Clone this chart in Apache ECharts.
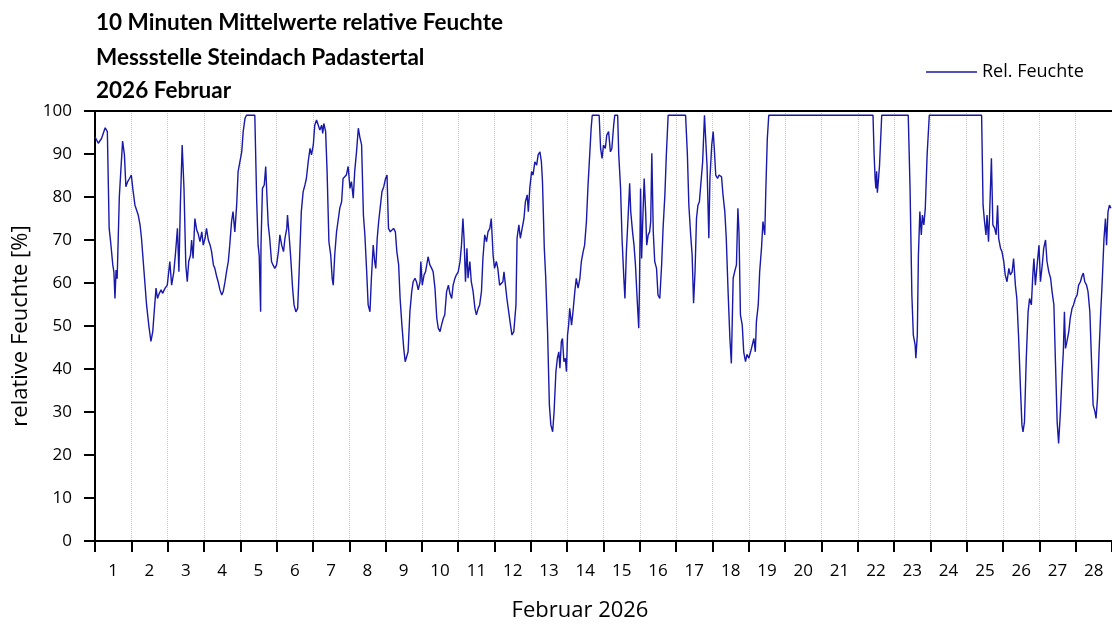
<!DOCTYPE html>
<html>
<head>
<meta charset="utf-8">
<script src="https://cdn.jsdelivr.net/npm/echarts@6/dist/echarts.min.js"></script>
<style>
  html, body { margin: 0; padding: 0; background: #fff; }
  #chart { width: 1112px; height: 627px; }
</style>
</head>
<body>
<div id="chart"></div>
<script>
// Title block (three lines, top left)
const titleLines = [
  '10 Minuten Mittelwerte relative Feuchte',
  'Messstelle Steindach Padastertal',
  '2026 Februar'
];
const seriesName = 'Rel. Feuchte';
const xAxisTitle = 'Februar 2026';
const yAxisTitle = 'relative Feuchte [%]';

// Day labels, centred within each day of the month
const dayLabels = ['1','2','3','4','5','6','7','8','9','10','11','12','13','14',
  '15','16','17','18','19','20','21','22','23','24','25','26','27','28'];

// Time of each reading in days since 1 Feb 00:00
const dayOffsets = [
  0.00,0.09,0.18,0.28,0.34,0.39,0.43,0.49,0.52,0.55,0.58,0.61,0.67,0.71,0.76,0.81,0.85,0.90,0.95,
  1.00,1.04,1.10,1.15,1.19,1.24,1.28,1.35,1.42,1.48,1.54,1.59,1.63,1.68,1.72,1.77,1.82,1.86,1.93,1.99,
  2.06,2.11,2.17,2.22,2.27,2.31,2.35,2.40,2.45,2.50,2.54,2.58,2.63,2.66,2.70,2.75,2.80,2.84,2.89,2.94,2.98,
  3.03,3.07,3.12,3.17,3.21,3.26,3.30,3.35,3.39,3.44,3.49,3.53,3.58,3.62,3.67,3.71,3.76,3.80,3.85,3.90,3.94,3.99,
  4.04,4.08,4.13,4.17,4.40,4.45,4.49,4.52,4.56,4.57,4.61,4.66,4.70,4.74,4.77,4.81,4.86,4.90,4.95,
  5.00,5.05,5.09,5.14,5.19,5.23,5.28,5.30,5.35,5.39,5.44,5.48,5.53,5.58,5.62,5.68,5.73,5.78,5.82,5.87,5.92,5.96,
  6.01,6.05,6.10,6.15,6.19,6.24,6.27,6.30,6.35,6.39,6.44,6.49,6.53,6.56,6.60,6.65,6.69,6.74,6.79,6.83,6.88,6.92,6.97,
  7.02,7.06,7.11,7.15,7.20,7.25,7.29,7.34,7.39,7.43,7.48,7.52,7.57,7.61,7.66,7.70,7.73,7.77,7.81,7.86,7.90,7.95,
  8.00,8.04,8.08,8.13,8.18,8.22,8.27,8.31,8.36,8.40,8.45,8.50,8.54,8.58,8.62,8.67,8.72,8.76,8.81,8.85,8.90,8.95,8.97,
  9.01,9.06,9.10,9.15,9.17,9.22,9.27,9.31,9.36,9.41,9.45,9.50,9.54,9.59,9.63,9.68,9.73,9.77,9.82,9.86,9.91,9.95,
  10.00,10.05,10.09,10.13,10.16,10.20,10.24,10.27,10.32,10.36,10.41,10.46,10.50,10.55,10.59,10.64,10.68,10.73,10.78,10.82,10.87,10.91,10.96,
  11.00,11.05,11.09,11.14,11.19,11.23,11.26,11.30,11.34,11.39,11.44,11.48,11.53,11.56,11.59,11.62,11.67,11.71,11.76,11.81,11.85,11.90,11.93,11.97,
  12.02,12.06,12.11,12.16,12.20,12.25,12.29,12.32,12.37,12.41,12.46,12.51,12.55,12.60,12.64,12.69,12.73,12.77,12.80,12.84,12.87,12.91,12.95,12.98,
  13.01,13.04,13.07,13.12,13.16,13.21,13.25,13.30,13.35,13.39,13.44,13.48,13.53,13.57,13.62,13.66,13.69,13.88,13.92,13.96,
  14.00,14.05,14.09,14.14,14.19,14.23,14.28,14.31,14.39,14.42,14.47,14.51,14.56,14.59,14.63,14.68,14.72,14.75,14.80,14.84,14.88,14.93,14.97,14.99,
  15.02,15.05,15.08,15.12,15.16,15.19,15.23,15.27,15.30,15.33,15.37,15.41,15.46,15.50,15.55,15.60,15.64,15.69,15.73,15.78,
  16.26,16.31,16.35,16.40,16.44,16.48,16.52,16.56,16.60,16.64,16.69,16.73,16.78,16.81,16.85,16.90,16.93,16.98,
  17.02,17.05,17.09,17.14,17.18,17.25,17.29,17.34,17.38,17.43,17.48,17.52,17.57,17.61,17.66,17.70,17.73,17.77,17.82,17.86,17.91,17.95,
  18.00,18.05,18.09,18.14,18.18,18.21,18.26,18.30,18.35,18.39,18.44,18.47,18.51,18.55,
  21.42,21.45,21.48,21.50,21.52,21.54,21.57,21.60,21.66,
  22.39,22.44,22.49,22.53,22.58,22.60,22.64,22.67,22.71,22.75,22.78,22.82,22.86,22.91,22.97,
  24.41,24.45,24.49,24.53,24.56,24.60,24.63,24.68,24.72,24.77,24.81,24.85,24.88,24.93,24.97,
  25.02,25.06,25.11,25.16,25.20,25.25,25.29,25.34,25.38,25.43,25.48,25.52,25.55,25.59,25.64,25.69,25.73,25.78,25.82,25.85,25.89,25.93,25.99,
  26.03,26.08,26.12,26.17,26.21,26.26,26.31,26.35,26.40,26.44,26.49,26.53,26.58,26.63,26.66,26.69,26.72,26.76,26.81,26.85,26.90,26.94,26.99,
  27.04,27.08,27.13,27.17,27.21,27.25,27.30,27.34,27.39,27.43,27.48,27.53,27.56,27.60,27.64,27.69,27.73,27.78,27.82,27.85,27.89,27.93,27.97
];

// Relative humidity in % for each reading above
const humidity = [
  94.0,92.5,93.6,96.1,95.2,72.7,69.6,64.2,62.6,56.4,63.0,61.0,80.1,85.9,93.0,89.8,82.4,83.6,84.3,
  85.1,82.0,78.1,77.8,75.8,73.5,70.4,62.6,54.9,50.2,46.4,48.7,53.3,58.8,56.4,57.6,58.4,57.6,58.8,59.5,
  65.0,59.5,62.6,67.3,72.7,62.6,78.1,92.1,82.0,64.2,60.3,65.0,66.5,70.0,65.7,75.0,72.3,71.5,69.6,71.9,68.8,
  70.4,72.7,70.0,68.8,67.3,64.2,63.4,61.5,60.3,58.4,57.2,58.0,60.3,62.6,65.0,68.8,74.3,76.6,71.9,78.1,85.9,88.2,
  90.5,95.2,98.3,99.0,99.0,79.7,68.8,66.5,53.3,68.8,82.0,82.8,87.1,78.9,73.5,70.4,65.0,64.2,63.4,
  64.2,67.3,71.2,68.8,67.3,70.4,72.7,75.8,70.4,65.7,58.8,54.9,53.3,54.1,62.6,76.6,81.2,82.8,84.3,88.2,91.3,89.8,
  92.1,96.7,97.9,97.5,95.6,96.7,94.8,97.1,95.2,85.9,69.6,66.5,61.1,59.5,66.5,71.9,74.3,77.4,78.9,84.3,84.0,85.1,87.1,
  82.0,83.6,79.7,85.9,90.5,96.0,94.0,92.1,75.8,71.2,62.6,54.9,53.3,61.1,68.8,65.0,63.4,70.4,74.3,78.1,81.2,82.4,
  84.3,85.1,72.7,71.9,72.3,72.7,71.9,67.3,64.2,56.4,50.2,44.8,41.7,41.7,44.0,53.3,58.0,60.3,61.1,60.3,58.4,60.3,65.0,
  59.5,61.9,62.6,65.0,66.1,64.2,63.4,62.6,58.8,51.8,49.5,48.7,50.2,51.8,52.6,58.0,59.5,57.6,56.4,59.5,61.1,61.9,
  62.6,65.0,68.8,75.0,70.4,60.3,68.1,61.1,65.0,60.3,58.0,54.1,52.6,54.1,54.9,58.0,65.7,71.2,69.6,71.9,72.7,75.0,66.5,
  63.4,65.0,63.4,59.5,59.1,60.3,62.6,59.5,56.4,53.3,50.2,47.9,48.7,48.7,54.9,70.4,73.5,70.4,70.4,75.0,78.9,80.5,76.6,82.0,
  85.9,85.1,88.2,87.4,89.8,90.5,88.2,83.6,68.1,61.1,48.7,31.6,27.0,25.4,30.1,39.4,42.5,44.0,40.2,46.4,47.1,41.7,42.5,39.4,
  47.9,50.2,54.1,50.2,53.3,58.0,61.1,58.8,61.1,65.0,67.3,68.8,74.3,82.0,89.8,96.0,99.0,99.0,91.3,89.0,
  92.1,91.3,94.4,95.2,90.5,91.3,96.7,99.0,99.0,89.8,82.0,70.4,61.1,56.4,67.3,75.8,83.2,76.6,71.9,68.8,64.2,55.7,49.5,58.8,
  82.0,65.7,74.3,84.3,76.6,68.8,71.2,71.9,74.3,90.2,71.9,65.0,63.4,57.2,56.4,64.2,72.7,80.5,89.8,99.0,
  99.0,89.8,78.1,71.2,66.5,55.3,62.6,75.0,78.1,78.9,78.9,88.2,99.0,99.0,87.4,70.4,84.3,92.1,
  95.2,91.3,85.1,84.3,85.1,84.7,80.5,76.6,70.4,58.0,47.1,41.3,61.1,62.6,64.2,77.4,71.9,52.6,50.2,44.0,41.7,43.4,
  42.5,44.0,44.0,47.1,44.0,51.0,54.9,62.6,68.1,74.3,71.2,82.0,93.6,99.0,
  99.0,90.0,84.0,82.0,86.0,81.0,84.0,87.4,99.0,
  99.0,82.0,57.2,47.9,45.6,42.5,47.9,66.5,76.6,71.2,75.8,73.5,77.4,89.8,99.0,
  99.0,78.1,74.3,71.2,75.8,69.6,75.8,89.0,73.5,72.7,71.2,78.1,70.4,68.1,67.3,
  65.0,61.9,60.3,63.4,61.9,62.6,65.7,59.5,56.4,47.1,35.5,27.0,25.4,27.7,42.5,53.3,56.4,54.9,61.9,65.7,59.5,63.4,68.8,
  60.3,64.2,68.1,70.0,65.0,62.6,61.1,58.0,54.9,42.5,27.7,22.7,30.1,39.4,44.0,53.3,44.8,46.4,48.7,51.8,54.1,54.9,56.4,
  57.2,59.5,60.3,61.5,62.3,60.3,59.5,58.0,53.3,43.3,31.6,30.1,28.5,33.2,43.3,53.3,60.3,70.4,75.0,68.8,76.6,78.1,77.4
];

const points = dayOffsets.map((d, i) => [d, humidity[i]]);

const chart = echarts.init(document.getElementById('chart'), null, { renderer: 'canvas' });

const textFont = "'Open Sans', 'DejaVu Sans', sans-serif";
const titleFont = "Lato, 'Open Sans', sans-serif";
const lineColor = '#1818aa';

chart.setOption({
  animation: false,
  backgroundColor: '#ffffff',
  grid: { left: 95, right: 0, top: 111, bottom: 86, containLabel: false },
  legend: {
    data: [seriesName],
    left: 926,
    top: 63,
    padding: 0,
    icon: 'rect',
    itemWidth: 51,
    itemHeight: 1.3,
    textStyle: { fontFamily: textFont, fontSize: 18, color: '#000' }
  },
  graphic: [
    ...titleLines.map((t, i) => ({
      type: 'text',
      x: 96,
      y: [11, 46, 79][i],
      style: { text: t, font: 'bold 22.5px ' + titleFont, fill: '#000', textAlign: 'left', textVerticalAlign: 'top' }
    })),
    {
      type: 'text',
      x: 580,
      y: 600,
      style: { text: xAxisTitle, font: '22px ' + textFont, fill: '#000', textAlign: 'center', textVerticalAlign: 'top' }
    }
  ],
  xAxis: [
    {
      type: 'value',
      min: 0,
      max: 28,
      interval: 1,
      position: 'bottom',
      axisLine: { show: true, onZero: false, lineStyle: { color: '#000', width: 2 } },
      axisTick: { show: true, length: 11, lineStyle: { color: '#000', width: 2 } },
      axisLabel: { show: false },
      splitLine: { show: true, lineStyle: { color: '#c8c8c8', type: 'dotted', width: 1 } }
    },
    {
      type: 'category',
      data: dayLabels,
      position: 'bottom',
      boundaryGap: true,
      axisLine: { show: false },
      axisTick: { show: false },
      axisLabel: { show: true, interval: 0, margin: 22, fontFamily: textFont, fontSize: 17, color: '#000' },
      splitLine: { show: false }
    },
    {
      type: 'value',
      min: 0,
      max: 28,
      position: 'top',
      axisLine: { show: true, onZero: false, lineStyle: { color: '#000', width: 2 } },
      axisTick: { show: false },
      axisLabel: { show: false },
      splitLine: { show: false }
    }
  ],
  yAxis: {
    type: 'value',
    min: 0,
    max: 100,
    interval: 10,
    name: yAxisTitle,
    nameLocation: 'middle',
    nameGap: 58,
    nameTextStyle: { fontFamily: textFont, fontSize: 22, color: '#000' },
    axisLine: { show: true, lineStyle: { color: '#000', width: 2 } },
    axisTick: { show: true, length: 11, lineStyle: { color: '#000', width: 2 } },
    axisLabel: { margin: 23, fontFamily: textFont, fontSize: 17, color: '#000' },
    splitLine: { show: false }
  },
  series: [
    {
      name: seriesName,
      type: 'line',
      xAxisIndex: 0,
      data: points,
      symbol: 'none',
      smooth: false,
      lineStyle: { color: lineColor, width: 1.4 },
      itemStyle: { color: lineColor }
    }
  ]
});
</script>
</body>
</html>
